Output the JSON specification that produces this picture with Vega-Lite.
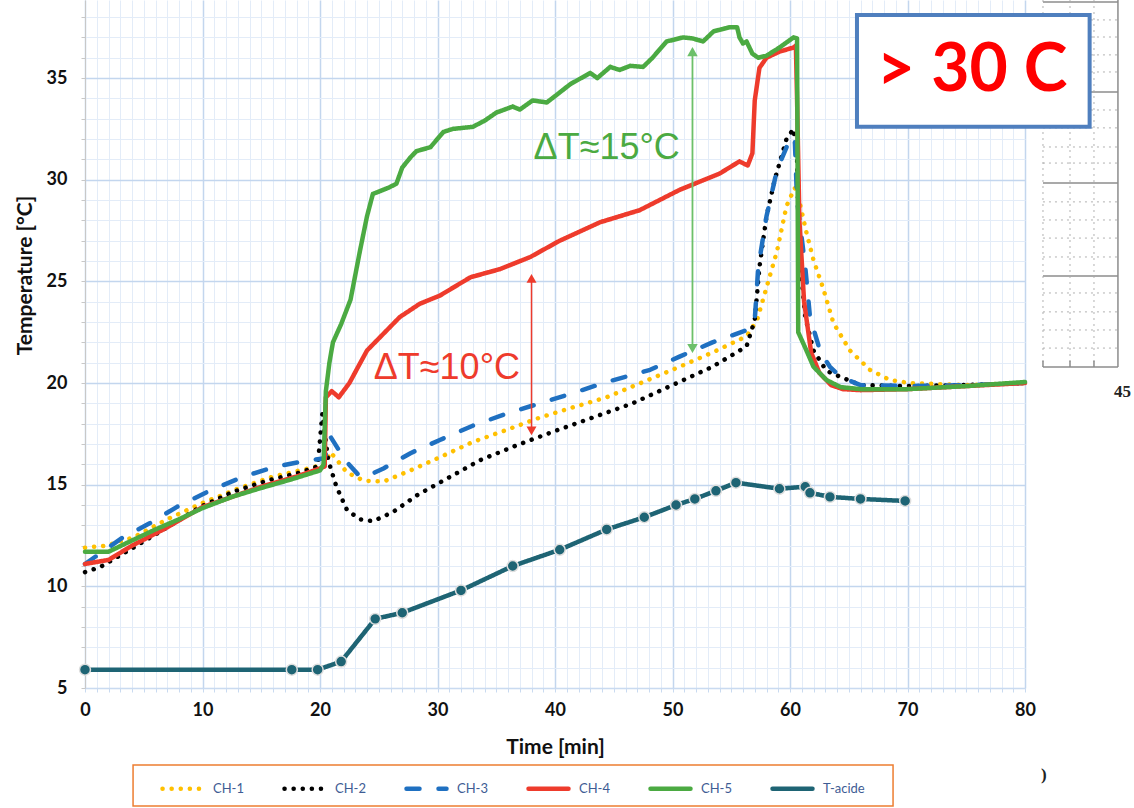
{
  "$schema": "https://vega.github.io/schema/vega-lite/v6.json",
  "width": 940,
  "height": 688,
  "autosize": "none",
  "padding": {"left": 85, "top": 0, "right": 109, "bottom": 120},
  "background": "white",
  "config": {"view": {"stroke": null}, "font": "Lato"},
  "data": {"values": [
    {"s":"CH-1","t":0,"v":11.9},{"s":"CH-1","t":1.8,"v":12.0},{"s":"CH-1","t":4.1,"v":12.4},{"s":"CH-1","t":7,"v":13.3},{"s":"CH-1","t":10,"v":14.1},{"s":"CH-1","t":13,"v":14.8},{"s":"CH-1","t":16,"v":15.4},{"s":"CH-1","t":19,"v":15.8},{"s":"CH-1","t":20.4,"v":16.0},{"s":"CH-1","t":20.9,"v":16.6},{"s":"CH-1","t":22.3,"v":15.6},{"s":"CH-1","t":23.7,"v":15.2},{"s":"CH-1","t":25.4,"v":15.15},{"s":"CH-1","t":27.7,"v":15.7},{"s":"CH-1","t":30.2,"v":16.35},{"s":"CH-1","t":33,"v":17.1},{"s":"CH-1","t":35.9,"v":17.7},{"s":"CH-1","t":38.7,"v":18.3},{"s":"CH-1","t":41.5,"v":18.8},{"s":"CH-1","t":44.4,"v":19.3},{"s":"CH-1","t":47.5,"v":20.05},{"s":"CH-1","t":50.6,"v":20.8},{"s":"CH-1","t":53.4,"v":21.5},{"s":"CH-1","t":56.3,"v":22.3},{"s":"CH-1","t":57.2,"v":23.1},{"s":"CH-1","t":58,"v":24.7},{"s":"CH-1","t":58.9,"v":26.5},{"s":"CH-1","t":59.7,"v":28.7},{"s":"CH-1","t":60.4,"v":29.6},{"s":"CH-1","t":60.7,"v":29.2},{"s":"CH-1","t":61.4,"v":27.4},{"s":"CH-1","t":62,"v":26.05},{"s":"CH-1","t":62.8,"v":24.7},{"s":"CH-1","t":63.7,"v":22.95},{"s":"CH-1","t":65.1,"v":21.6},{"s":"CH-1","t":66.8,"v":20.65},{"s":"CH-1","t":68.5,"v":20.15},{"s":"CH-1","t":70.2,"v":20.0},{"s":"CH-1","t":75,"v":19.9},{"s":"CH-1","t":80,"v":20.0},
    {"s":"CH-2","t":0,"v":10.7},{"s":"CH-2","t":1.3,"v":10.95},{"s":"CH-2","t":4.1,"v":11.9},{"s":"CH-2","t":7,"v":12.9},{"s":"CH-2","t":9.8,"v":13.9},{"s":"CH-2","t":12.6,"v":14.65},{"s":"CH-2","t":15.5,"v":15.2},{"s":"CH-2","t":18.3,"v":15.6},{"s":"CH-2","t":19.8,"v":15.9},{"s":"CH-2","t":20.2,"v":18.5},{"s":"CH-2","t":20.7,"v":16.2},{"s":"CH-2","t":21.4,"v":14.9},{"s":"CH-2","t":22.3,"v":13.75},{"s":"CH-2","t":23.4,"v":13.3},{"s":"CH-2","t":24.5,"v":13.2},{"s":"CH-2","t":26.2,"v":13.65},{"s":"CH-2","t":28.3,"v":14.5},{"s":"CH-2","t":30.5,"v":15.2},{"s":"CH-2","t":33.6,"v":16.2},{"s":"CH-2","t":36.8,"v":16.95},{"s":"CH-2","t":39.8,"v":17.6},{"s":"CH-2","t":43.2,"v":18.3},{"s":"CH-2","t":46.6,"v":19.0},{"s":"CH-2","t":50,"v":19.9},{"s":"CH-2","t":53.4,"v":20.8},{"s":"CH-2","t":56.3,"v":21.8},{"s":"CH-2","t":57,"v":23.1},{"s":"CH-2","t":57.4,"v":25.7},{"s":"CH-2","t":58,"v":28.2},{"s":"CH-2","t":58.7,"v":30.0},{"s":"CH-2","t":59.7,"v":32.0},{"s":"CH-2","t":60.3,"v":32.5},{"s":"CH-2","t":60.6,"v":31.0},{"s":"CH-2","t":60.7,"v":28.4},{"s":"CH-2","t":60.9,"v":25.7},{"s":"CH-2","t":61.3,"v":23.25},{"s":"CH-2","t":62,"v":21.6},{"s":"CH-2","t":63.1,"v":20.6},{"s":"CH-2","t":64.3,"v":20.3},{"s":"CH-2","t":66,"v":19.9},{"s":"CH-2","t":70,"v":19.85},{"s":"CH-2","t":75,"v":19.9},{"s":"CH-2","t":80,"v":20.0},
    {"s":"CH-3","t":0,"v":11.1},{"s":"CH-3","t":3.2,"v":12.4},{"s":"CH-3","t":5.5,"v":13.1},{"s":"CH-3","t":7.8,"v":13.9},{"s":"CH-3","t":10.6,"v":14.7},{"s":"CH-3","t":13.5,"v":15.4},{"s":"CH-3","t":16.3,"v":15.9},{"s":"CH-3","t":19.1,"v":16.2},{"s":"CH-3","t":20.4,"v":16.3},{"s":"CH-3","t":20.9,"v":17.35},{"s":"CH-3","t":21.5,"v":16.8},{"s":"CH-3","t":22.3,"v":16.1},{"s":"CH-3","t":23.4,"v":15.4},{"s":"CH-3","t":24.3,"v":15.5},{"s":"CH-3","t":25.4,"v":15.8},{"s":"CH-3","t":27.7,"v":16.55},{"s":"CH-3","t":30.2,"v":17.2},{"s":"CH-3","t":33,"v":17.9},{"s":"CH-3","t":35.9,"v":18.5},{"s":"CH-3","t":38.7,"v":19.0},{"s":"CH-3","t":41.5,"v":19.5},{"s":"CH-3","t":44.4,"v":20.05},{"s":"CH-3","t":48.1,"v":20.65},{"s":"CH-3","t":50.6,"v":21.3},{"s":"CH-3","t":53.4,"v":22.0},{"s":"CH-3","t":56.3,"v":22.6},{"s":"CH-3","t":57,"v":23.1},{"s":"CH-3","t":57.3,"v":25.7},{"s":"CH-3","t":58,"v":28.2},{"s":"CH-3","t":58.9,"v":30.5},{"s":"CH-3","t":60,"v":32.0},{"s":"CH-3","t":60.4,"v":32.1},{"s":"CH-3","t":60.6,"v":29.0},{"s":"CH-3","t":61.3,"v":25.7},{"s":"CH-3","t":61.7,"v":23.25},{"s":"CH-3","t":62.6,"v":21.5},{"s":"CH-3","t":63.4,"v":20.8},{"s":"CH-3","t":64.3,"v":20.3},{"s":"CH-3","t":66,"v":19.9},{"s":"CH-3","t":70,"v":19.85},{"s":"CH-3","t":75,"v":19.9},{"s":"CH-3","t":80,"v":20.0},
    {"s":"CH-4","t":0,"v":11.1},{"s":"CH-4","t":2,"v":11.3},{"s":"CH-4","t":4,"v":12.0},{"s":"CH-4","t":7,"v":12.9},{"s":"CH-4","t":10,"v":13.9},{"s":"CH-4","t":13,"v":14.5},{"s":"CH-4","t":15,"v":14.9},{"s":"CH-4","t":18,"v":15.4},{"s":"CH-4","t":20,"v":15.8},{"s":"CH-4","t":20.4,"v":15.9},{"s":"CH-4","t":20.5,"v":19.3},{"s":"CH-4","t":21.0,"v":19.6},{"s":"CH-4","t":21.6,"v":19.3},{"s":"CH-4","t":22.5,"v":20.0},{"s":"CH-4","t":24,"v":21.6},{"s":"CH-4","t":26.8,"v":23.25},{"s":"CH-4","t":28.5,"v":23.9},{"s":"CH-4","t":30.2,"v":24.3},{"s":"CH-4","t":32.8,"v":25.2},{"s":"CH-4","t":35.3,"v":25.6},{"s":"CH-4","t":37.9,"v":26.2},{"s":"CH-4","t":40.4,"v":27.0},{"s":"CH-4","t":43.8,"v":27.9},{"s":"CH-4","t":47.2,"v":28.5},{"s":"CH-4","t":50.6,"v":29.5},{"s":"CH-4","t":54,"v":30.3},{"s":"CH-4","t":55.7,"v":30.9},{"s":"CH-4","t":56.4,"v":30.7},{"s":"CH-4","t":56.8,"v":31.3},{"s":"CH-4","t":57.0,"v":33.9},{"s":"CH-4","t":57.4,"v":35.5},{"s":"CH-4","t":58.0,"v":36.0},{"s":"CH-4","t":59.1,"v":36.3},{"s":"CH-4","t":60.3,"v":36.5},{"s":"CH-4","t":60.5,"v":36.6},{"s":"CH-4","t":60.6,"v":34.0},{"s":"CH-4","t":60.8,"v":28.0},{"s":"CH-4","t":61.2,"v":24.0},{"s":"CH-4","t":61.8,"v":21.5},{"s":"CH-4","t":62.5,"v":20.5},{"s":"CH-4","t":63.5,"v":19.9},{"s":"CH-4","t":64.5,"v":19.7},{"s":"CH-4","t":66,"v":19.65},{"s":"CH-4","t":70,"v":19.7},{"s":"CH-4","t":75,"v":19.85},{"s":"CH-4","t":80,"v":20.0},
    {"s":"CH-5","t":0,"v":11.7},{"s":"CH-5","t":2,"v":11.7},{"s":"CH-5","t":3.8,"v":12.2},{"s":"CH-5","t":6,"v":12.8},{"s":"CH-5","t":8,"v":13.3},{"s":"CH-5","t":10,"v":13.85},{"s":"CH-5","t":12.5,"v":14.4},{"s":"CH-5","t":15,"v":14.84},{"s":"CH-5","t":17.5,"v":15.25},{"s":"CH-5","t":20,"v":15.7},{"s":"CH-5","t":20.3,"v":16.0},{"s":"CH-5","t":20.5,"v":19.6},{"s":"CH-5","t":20.8,"v":21.0},{"s":"CH-5","t":21.1,"v":22.0},{"s":"CH-5","t":21.8,"v":22.9},{"s":"CH-5","t":22.6,"v":24.1},{"s":"CH-5","t":23.4,"v":26.5},{"s":"CH-5","t":24.0,"v":28.2},{"s":"CH-5","t":24.5,"v":29.3},{"s":"CH-5","t":25.8,"v":29.6},{"s":"CH-5","t":26.5,"v":29.8},{"s":"CH-5","t":27.0,"v":30.6},{"s":"CH-5","t":27.7,"v":31.1},{"s":"CH-5","t":28.2,"v":31.4},{"s":"CH-5","t":29.4,"v":31.6},{"s":"CH-5","t":30.5,"v":32.35},{"s":"CH-5","t":31.3,"v":32.5},{"s":"CH-5","t":33.0,"v":32.6},{"s":"CH-5","t":34.0,"v":32.9},{"s":"CH-5","t":35.0,"v":33.3},{"s":"CH-5","t":36.4,"v":33.6},{"s":"CH-5","t":37.0,"v":33.45},{"s":"CH-5","t":38.1,"v":33.9},{"s":"CH-5","t":39.3,"v":33.8},{"s":"CH-5","t":40.2,"v":34.2},{"s":"CH-5","t":41.3,"v":34.7},{"s":"CH-5","t":43.0,"v":35.25},{"s":"CH-5","t":43.6,"v":35.0},{"s":"CH-5","t":44.7,"v":35.55},{"s":"CH-5","t":45.5,"v":35.4},{"s":"CH-5","t":46.4,"v":35.6},{"s":"CH-5","t":47.5,"v":35.55},{"s":"CH-5","t":48.3,"v":36.0},{"s":"CH-5","t":49.5,"v":36.8},{"s":"CH-5","t":50.9,"v":37.0},{"s":"CH-5","t":51.7,"v":36.95},{"s":"CH-5","t":52.6,"v":36.8},{"s":"CH-5","t":53.5,"v":37.3},{"s":"CH-5","t":54.9,"v":37.5},{"s":"CH-5","t":55.5,"v":37.5},{"s":"CH-5","t":55.7,"v":37.0},{"s":"CH-5","t":56.0,"v":36.7},{"s":"CH-5","t":56.3,"v":36.8},{"s":"CH-5","t":56.8,"v":36.2},{"s":"CH-5","t":57.3,"v":36.0},{"s":"CH-5","t":58.0,"v":36.1},{"s":"CH-5","t":59.1,"v":36.5},{"s":"CH-5","t":60.3,"v":37.0},{"s":"CH-5","t":60.6,"v":36.95},{"s":"CH-5","t":60.7,"v":22.5},{"s":"CH-5","t":61.4,"v":21.6},{"s":"CH-5","t":62.0,"v":20.8},{"s":"CH-5","t":63.1,"v":20.15},{"s":"CH-5","t":64.3,"v":19.8},{"s":"CH-5","t":66,"v":19.7},{"s":"CH-5","t":70,"v":19.7},{"s":"CH-5","t":75,"v":19.85},{"s":"CH-5","t":80,"v":20.05},
    {"s":"T-acide","t":0,"v":5.9},{"s":"T-acide","t":17.6,"v":5.9},{"s":"T-acide","t":19.8,"v":5.9},{"s":"T-acide","t":21.8,"v":6.3},{"s":"T-acide","t":24.7,"v":8.4},{"s":"T-acide","t":27.0,"v":8.7},{"s":"T-acide","t":32.0,"v":9.8},{"s":"T-acide","t":36.4,"v":11.0},{"s":"T-acide","t":40.4,"v":11.8},{"s":"T-acide","t":44.4,"v":12.8},{"s":"T-acide","t":47.6,"v":13.4},{"s":"T-acide","t":50.3,"v":14.0},{"s":"T-acide","t":51.9,"v":14.3},{"s":"T-acide","t":53.7,"v":14.7},{"s":"T-acide","t":55.4,"v":15.1},{"s":"T-acide","t":59.1,"v":14.8},{"s":"T-acide","t":61.3,"v":14.9},{"s":"T-acide","t":61.7,"v":14.6},{"s":"T-acide","t":63.4,"v":14.4},{"s":"T-acide","t":66.0,"v":14.3},{"s":"T-acide","t":69.8,"v":14.2}
  ]},
  "layer": [
    {
      "mark": {"type": "line", "strokeWidth": 4.5, "strokeCap": "round", "strokeJoin": "round"},
      "encoding": {
        "x": {"field": "t", "type": "quantitative",
          "scale": {"domain": [0, 80], "nice": false, "zero": false},
          "axis": {"title": "Time [min]", "tickCount": 200, "format": "d",
            "values": [0,1,2,3,4,5,6,7,8,9,10,11,12,13,14,15,16,17,18,19,20,21,22,23,24,25,26,27,28,29,30,31,32,33,34,35,36,37,38,39,40,41,42,43,44,45,46,47,48,49,50,51,52,53,54,55,56,57,58,59,60,61,62,63,64,65,66,67,68,69,70,71,72,73,74,75,76,77,78,79,80],
            "labelExpr": "datum.value % 10 === 0 ? datum.label : ''",
            "labelOverlap": false, "labelFlush": false,
            "grid": true,
            "gridColor": {"condition": {"test": "datum.value % 10 === 0", "value": "#c3d6ee"}, "value": "#e3ecf8"},
            "gridWidth": {"condition": {"test": "datum.value % 10 === 0", "value": 1.5}, "value": 1},
            "tickColor": "#c9daf0", "tickSize": 4, "domainColor": "#c9daf0",
            "labelFont": "Lato", "labelFontWeight": "bold", "labelFontSize": 18, "labelColor": "#111111", "labelPadding": 9,
            "titleFont": "Lato", "titleFontWeight": "bold", "titleFontSize": 21, "titleColor": "#111111",
            "titleBaseline": "middle", "titleY": 59}
        },
        "y": {"field": "v", "type": "quantitative",
          "scale": {"domain": [5, 38.84], "nice": false, "zero": false},
          "axis": {"title": "Temperature [°C]", "tickCount": 200, "format": "d",
            "values": [5,6,7,8,9,10,11,12,13,14,15,16,17,18,19,20,21,22,23,24,25,26,27,28,29,30,31,32,33,34,35,36,37,38],
            "labelExpr": "datum.value % 5 === 0 ? datum.label : ''",
            "labelOverlap": false, "labelFlush": false,
            "grid": true,
            "gridColor": {"condition": {"test": "datum.value % 5 === 0", "value": "#c3d6ee"}, "value": "#e3ecf8"},
            "gridWidth": {"condition": {"test": "datum.value % 5 === 0", "value": 1.5}, "value": 1},
            "tickColor": "#c8c8c8", "tickSize": 4, "domainColor": "#c8c8c8",
            "labelFont": "Lato", "labelFontWeight": "bold", "labelFontSize": 18, "labelColor": "#111111", "labelPadding": 14,
            "titleFont": "Lato", "titleFontWeight": "bold", "titleFontSize": 21, "titleColor": "#111111",
            "titleAngle": 270, "titleBaseline": "middle", "titleAlign": "center", "titleX": -60, "titleY": 275}
        },
        "color": {"field": "s", "type": "nominal",
          "scale": {"domain": ["CH-1","CH-2","CH-3","CH-4","CH-5","T-acide"], "range": ["#FFC000","#000000","#1F70C1","#EE3B2C","#4BAA42","#1E6474"]},
          "legend": {"orient": "none", "legendX": 75, "legendY": 766, "direction": "horizontal", "columns": 6, "gridAlign": "all", "title": null,
            "symbolType": "stroke", "symbolSize": 1600, "symbolStrokeWidth": 4.5,
            "labelFont": "Lato", "labelFontSize": 13, "labelColor": "#3e5c94", "labelOffset": 8, "columnPadding": 20,
            "padding": 0,
            "encode": {"symbols": {"update": {"strokeCap": {"value": "round"}}}}}
        },
        "strokeDash": {"field": "s", "type": "nominal",
          "scale": {"domain": ["CH-1","CH-2","CH-3","CH-4","CH-5","T-acide"], "range": [[0.1,9],[0.1,9],[13,19],[1,0],[1,0],[1,0]]},
          "legend": {"orient": "none", "legendX": 75, "legendY": 766, "direction": "horizontal", "columns": 6, "gridAlign": "all", "title": null,
            "symbolType": "stroke", "symbolSize": 1600, "symbolStrokeWidth": 4.5,
            "labelFont": "Lato", "labelFontSize": 13, "labelColor": "#3e5c94", "labelOffset": 8, "columnPadding": 20,
            "padding": 0,
            "encode": {"symbols": {"update": {"strokeCap": {"value": "round"}}}}}
        }
      }
    },
    {
      "transform": [{"filter": "datum.s === 'T-acide'"}],
      "mark": {"type": "point", "filled": true, "size": 120, "fill": "#1E6474", "stroke": "#dedede", "strokeWidth": 1.5, "opacity": 1},
      "encoding": {"x": {"field": "t", "type": "quantitative"}, "y": {"field": "v", "type": "quantitative"}}
    },
    {
      "data": {"values": [{"t": 4.09, "t2": 68.77, "v": 1.21, "v2": -0.8}]},
      "mark": {"type": "rect", "fill": "white", "fillOpacity": 0, "stroke": "#ED7D31", "strokeWidth": 1.5},
      "encoding": {"x": {"field": "t", "type": "quantitative"}, "x2": {"field": "t2"}, "y": {"field": "v", "type": "quantitative"}, "y2": {"field": "v2"}}
    },
    {
      "data": {"values": [{"a": "green", "t": 51.7, "v": 36.3, "v2": 21.7}, {"a": "red", "t": 38.0, "v": 25.15, "v2": 17.65}]},
      "layer": [
        {"transform": [{"filter": "datum.a === 'green'"}], "mark": {"type": "rule", "color": "#6cc06a", "strokeWidth": 1.8},
         "encoding": {"x": {"field": "t", "type": "quantitative"}, "y": {"field": "v", "type": "quantitative"}, "y2": {"field": "v2"}}},
        {"transform": [{"filter": "datum.a === 'green'"}], "mark": {"type": "point", "shape": "triangle-up", "filled": true, "color": "#6cc06a", "size": 110, "opacity": 1},
         "encoding": {"x": {"field": "t", "type": "quantitative"}, "y": {"field": "v", "type": "quantitative"}}},
        {"transform": [{"filter": "datum.a === 'green'"}], "mark": {"type": "point", "shape": "triangle-down", "filled": true, "color": "#6cc06a", "size": 110, "opacity": 1},
         "encoding": {"x": {"field": "t", "type": "quantitative"}, "y": {"field": "v2", "type": "quantitative"}}},
        {"transform": [{"filter": "datum.a === 'red'"}], "mark": {"type": "rule", "color": "#EE3B2C", "strokeWidth": 1.5},
         "encoding": {"x": {"field": "t", "type": "quantitative"}, "y": {"field": "v", "type": "quantitative"}, "y2": {"field": "v2"}}},
        {"transform": [{"filter": "datum.a === 'red'"}], "mark": {"type": "point", "shape": "triangle-up", "filled": true, "color": "#EE3B2C", "size": 100, "opacity": 1},
         "encoding": {"x": {"field": "t", "type": "quantitative"}, "y": {"field": "v", "type": "quantitative"}}},
        {"transform": [{"filter": "datum.a === 'red'"}], "mark": {"type": "point", "shape": "triangle-down", "filled": true, "color": "#EE3B2C", "size": 100, "opacity": 1},
         "encoding": {"x": {"field": "t", "type": "quantitative"}, "y": {"field": "v2", "type": "quantitative"}}}
      ]
    },
    {
      "data": {"values": [{"label": "ΔT≈15°C", "t": 44.4, "v": 31.56}]},
      "mark": {"type": "text", "font": "Liberation Sans", "fontSize": 36, "color": "#4BAA42", "align": "center", "baseline": "middle"},
      "encoding": {"x": {"field": "t", "type": "quantitative"}, "y": {"field": "v", "type": "quantitative"}, "text": {"field": "label"}}
    },
    {
      "data": {"values": [{"label": "ΔT≈10°C", "t": 30.8, "v": 20.74}]},
      "mark": {"type": "text", "font": "Liberation Sans", "fontSize": 36, "color": "#EE3B2C", "align": "center", "baseline": "middle"},
      "encoding": {"x": {"field": "t", "type": "quantitative"}, "y": {"field": "v", "type": "quantitative"}, "text": {"field": "label"}}
    },
    {
      "data": {"values": [{"t": 81.53, "t2": 87.91, "v": 38.74}, {"t": 81.53, "t2": 87.91, "v": 34.32}, {"t": 81.53, "t2": 87.91, "v": 29.84}, {"t": 81.53, "t2": 87.91, "v": 25.27}, {"t": 81.53, "t2": 87.91, "v": 20.79}]},
      "mark": {"type": "rule", "color": "#8c8c8c", "strokeWidth": 1.5},
      "encoding": {"x": {"field": "t", "type": "quantitative"}, "x2": {"field": "t2"}, "y": {"field": "v", "type": "quantitative"}}
    },
    {
      "data": {"values": [{"t": 81.53, "t2": 87.91, "v": 37.86}, {"t": 81.53, "t2": 87.91, "v": 37.02}, {"t": 81.53, "t2": 87.91, "v": 36.14}, {"t": 81.53, "t2": 87.91, "v": 35.3}, {"t": 81.53, "t2": 87.91, "v": 33.43}, {"t": 81.53, "t2": 87.91, "v": 32.55}, {"t": 81.53, "t2": 87.91, "v": 31.61}, {"t": 81.53, "t2": 87.91, "v": 30.82}, {"t": 81.53, "t2": 87.91, "v": 28.91}, {"t": 81.53, "t2": 87.91, "v": 28.02}, {"t": 81.53, "t2": 87.91, "v": 27.13}, {"t": 81.53, "t2": 87.91, "v": 26.2}, {"t": 81.53, "t2": 87.91, "v": 24.43}, {"t": 81.53, "t2": 87.91, "v": 23.5}, {"t": 81.53, "t2": 87.91, "v": 22.61}, {"t": 81.53, "t2": 87.91, "v": 21.72}]},
      "mark": {"type": "rule", "color": "#a8a8a8", "strokeWidth": 0.9, "strokeDash": [2, 4]},
      "encoding": {"x": {"field": "t", "type": "quantitative"}, "x2": {"field": "t2"}, "y": {"field": "v", "type": "quantitative"}}
    },
    {
      "data": {"values": [{"t": 81.53, "v": 38.84, "v2": 20.79}, {"t": 83.83, "v": 38.84, "v2": 20.79}, {"t": 85.87, "v": 38.84, "v2": 20.79}]},
      "mark": {"type": "rule", "color": "#a8a8a8", "strokeWidth": 0.9, "strokeDash": [2, 4]},
      "encoding": {"x": {"field": "t", "type": "quantitative"}, "y": {"field": "v", "type": "quantitative"}, "y2": {"field": "v2"}}
    },
    {
      "data": {"values": [{"t": 87.91, "v": 38.84, "v2": 20.79}, {"t": 81.53, "v": 21.1, "v2": 20.79}, {"t": 83.83, "v": 21.1, "v2": 20.79}, {"t": 85.87, "v": 21.1, "v2": 20.79}]},
      "mark": {"type": "rule", "color": "#8c8c8c", "strokeWidth": 1.5},
      "encoding": {"x": {"field": "t", "type": "quantitative"}, "y": {"field": "v", "type": "quantitative"}, "y2": {"field": "v2"}}
    },
    {
      "data": {"values": [{"label": "45", "t": 88.3, "v": 19.56}, {"label": ")", "t": 81.6, "v": 0.72}]},
      "mark": {"type": "text", "font": "Liberation Serif", "fontWeight": "bold", "fontSize": 17, "color": "#222222", "align": "center", "baseline": "middle"},
      "encoding": {"x": {"field": "t", "type": "quantitative"}, "y": {"field": "v", "type": "quantitative"}, "text": {"field": "label"}}
    },
    {
      "data": {"values": [{"t": 65.7, "t2": 85.5, "v": 38.1, "v2": 32.6}]},
      "mark": {"type": "rect", "fill": "white", "stroke": "#4F7FBE", "strokeWidth": 4},
      "encoding": {"x": {"field": "t", "type": "quantitative"}, "x2": {"field": "t2"}, "y": {"field": "v", "type": "quantitative"}, "y2": {"field": "v2"}}
    },
    {
      "data": {"values": [{"label": "> 30 C", "t": 75.5, "v": 35.35}]},
      "mark": {"type": "text", "font": "Lato", "fontWeight": "bold", "fontSize": 66, "color": "#FF0000", "align": "center", "baseline": "middle"},
      "encoding": {"x": {"field": "t", "type": "quantitative"}, "y": {"field": "v", "type": "quantitative"}, "text": {"field": "label"}}
    }
  ]
}
